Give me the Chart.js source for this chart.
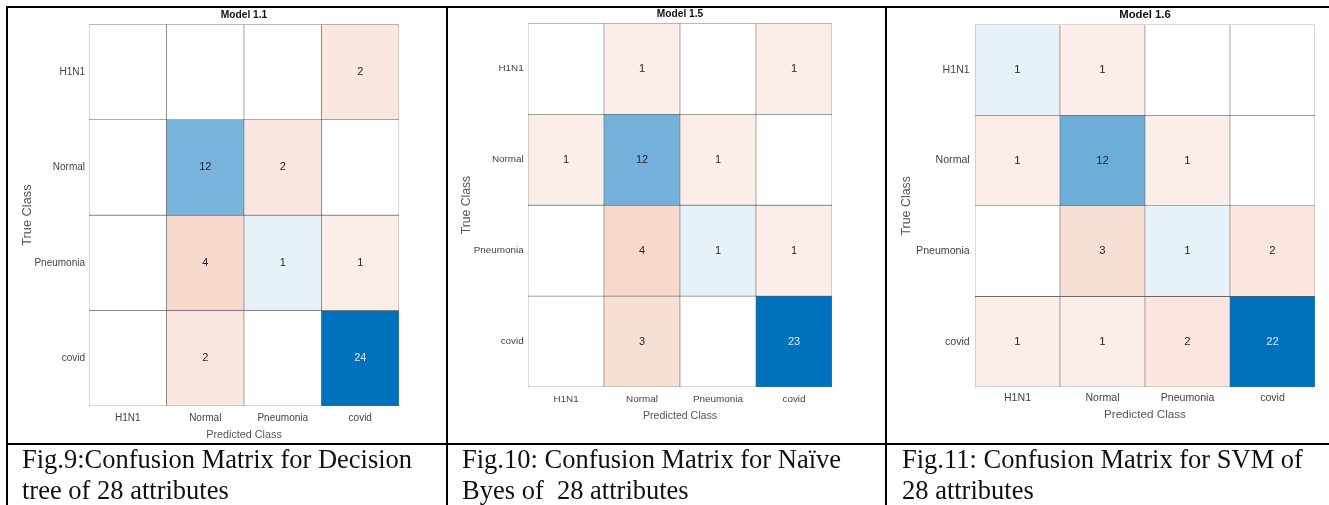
<!DOCTYPE html>
<html><head><meta charset="utf-8">
<script src="https://cdn.jsdelivr.net/npm/chart.js@4"></script>
<style>
html,body{margin:0;padding:0;background:#fff;}
body{width:1329px;height:505px;position:relative;overflow:hidden;}
canvas{position:absolute;top:0;z-index:1;}
.ln{position:absolute;background:#000;z-index:2;}
.cap{position:absolute;top:444px;font-family:"Liberation Serif","Times New Roman",serif;font-size:26.5px;line-height:30.5px;color:#111;white-space:pre;z-index:3;}
</style></head><body>
<div class="ln" style="left:6px;top:6px;width:1323px;height:2px"></div>
<div class="ln" style="left:6px;top:443px;width:1323px;height:2px"></div>
<div class="ln" style="left:6px;top:6px;width:2px;height:499px"></div>
<div class="ln" style="left:446px;top:6px;width:2px;height:499px"></div>
<div class="ln" style="left:885px;top:6px;width:2px;height:499px"></div>
<canvas id="c1" width="438" height="450" style="left:8px"></canvas>
<canvas id="c2" width="437" height="450" style="left:448px"></canvas>
<canvas id="c3" width="442" height="450" style="left:887px"></canvas>
<div class="cap" style="left:22px">Fig.9:Confusion Matrix for Decision
tree of 28 attributes</div>
<div class="cap" style="left:462px">Fig.10: Confusion Matrix for Naïve
Byes of  28 attributes</div>
<div class="cap" style="left:902px">Fig.11: Confusion Matrix for SVM of
28 attributes</div>
<script>
// ---- data ----
const predictedLabels = ['H1N1', 'Normal', 'Pneumonia', 'covid'];
const trueLabels = ['H1N1', 'Normal', 'Pneumonia', 'covid'];
const chartTitles = ['Model 1.1', 'Model 1.5', 'Model 1.6'];
const xAxisTitle = 'Predicted Class';
const yAxisTitle = 'True Class';
// rows = true class, columns = predicted class
const model11 = [[0, 0, 0, 2], [0, 12, 2, 0], [0, 4, 1, 1], [0, 2, 0, 24]];
const model15 = [[0, 1, 0, 1], [1, 12, 1, 0], [0, 4, 1, 1], [0, 3, 0, 23]];
const model16 = [[1, 1, 0, 0], [1, 12, 1, 0], [0, 3, 1, 2], [1, 1, 2, 22]];

// ---- styling ----
const DIAG = [0, 114, 189], OFF = [217, 83, 25];
const FONT = '"Liberation Sans", Arial, Helvetica, sans-serif';
function alphaFor(v, max) { return v <= 0 ? 0 : 0.1 + 0.9 * (v - 1) / (max - 1); }
function cellColor(m, r, c) {
  const max = Math.max(...m.flat());
  const a = alphaFor(m[r][c], max);
  const base = r === c ? DIAG : OFF;
  return 'rgb(' + base.map(b => Math.round(255 - a * (255 - b))).join(',') + ')';
}

function makeChart(id, m, title, g) {
  const datasets = trueLabels.map((t, r) => ({
    label: t,
    data: predictedLabels.map(() => [r, r + 1]),
    backgroundColor: ctx => cellColor(m, r, ctx.dataIndex),
    borderColor: 'rgba(60,60,60,0.75)',
    borderWidth: 0.6,
    borderSkipped: false,
    barPercentage: 1,
    categoryPercentage: 1,
    grouped: false
  }));
  const labelPlugin = {
    id: 'cellLabels' + id,
    afterDatasetsDraw(chart) {
      const ctx = chart.ctx;
      const max = Math.max(...m.flat());
      ctx.save();
      ctx.font = g.num + 'px ' + FONT;
      ctx.textAlign = 'center';
      ctx.textBaseline = 'middle';
      chart.data.datasets.forEach((ds, r) => {
        chart.getDatasetMeta(r).data.forEach((el, c) => {
          const v = m[r][c];
          if (!v) return;
          const p = el.getCenterPoint();
          ctx.fillStyle = alphaFor(v, max) > 0.7 ? '#dbe9f6' : '#262626';
          ctx.fillText(String(v), p.x, p.y);
        });
      });
      ctx.restore();
    }
  };
  return new Chart(document.getElementById(id), {
    type: 'bar',
    data: { labels: predictedLabels, datasets },
    plugins: [labelPlugin],
    options: {
      responsive: false,
      animation: false,
      layout: { padding: { left: 0, right: g.padRight, top: g.padTop, bottom: g.padBottom } },
      plugins: {
        legend: { display: false },
        tooltip: { enabled: false },
        title: {
          display: true, text: title, fullSize: false, color: '#111',
          font: { family: FONT, size: g.title, weight: 'bold', lineHeight: 1.2 },
          padding: { top: 0.5, bottom: 3 }
        }
      },
      scales: {
        x: {
          type: 'category',
          offset: true,
          grid: { display: false, drawTicks: false },
          border: { display: false },
          ticks: { color: '#444', padding: g.tickPadX, font: { family: FONT, size: g.tick, lineHeight: 1.2 }, maxRotation: 0, autoSkip: false },
          title: { display: true, text: xAxisTitle, color: '#555', font: { family: FONT, size: g.xTitle, lineHeight: 1.2 }, padding: { top: 0, bottom: g.xTitlePad } },
          afterFit: s => { s.height = 40; }
        },
        y: {
          type: 'linear',
          min: 0, max: 4,
          reverse: true,
          grid: { display: false, drawTicks: false },
          border: { display: false },
          afterBuildTicks: s => { s.ticks = trueLabels.map((t, i) => ({ value: i + 0.5 })); },
          ticks: { color: '#444', padding: g.tickPadY, font: { family: FONT, size: g.tick, lineHeight: 1.2 },
            callback: v => trueLabels[Math.floor(v)] },
          title: { display: true, text: yAxisTitle, color: '#555', font: { family: FONT, size: g.yTitle, lineHeight: 1.2 }, padding: { top: g.yTitlePad, bottom: 0 } },
          afterFit: s => { s.width = g.yWidth; }
        }
      }
    }
  });
}

makeChart('c1', model11, chartTitles[0], {
  yWidth: 81, padRight: 47, padTop: 8.5, padBottom: 4,
  title: 10.2, tick: 10, num: 11, xTitle: 10.8, yTitle: 12.8,
  tickPadX: 6.3, tickPadY: 4, xTitlePad: 4, yTitlePad: 11.5
});
makeChart('c2', model15, chartTitles[1], {
  yWidth: 80, padRight: 53, padTop: 7.5, padBottom: 23,
  title: 10.2, tick: 9.9, num: 11, xTitle: 10.6, yTitle: 12.2,
  tickPadX: 6.4, tickPadY: 4.3, xTitlePad: 4.7, yTitlePad: 11.4
});
makeChart('c3', model16, chartTitles[2], {
  yWidth: 88, padRight: 14, padTop: 7.5, padBottom: 23,
  title: 11.3, tick: 10.6, num: 11.3, xTitle: 11.7, yTitle: 12.4,
  tickPadX: 5, tickPadY: 5.3, xTitlePad: 5, yTitlePad: 12
});
</script>
</body></html>
